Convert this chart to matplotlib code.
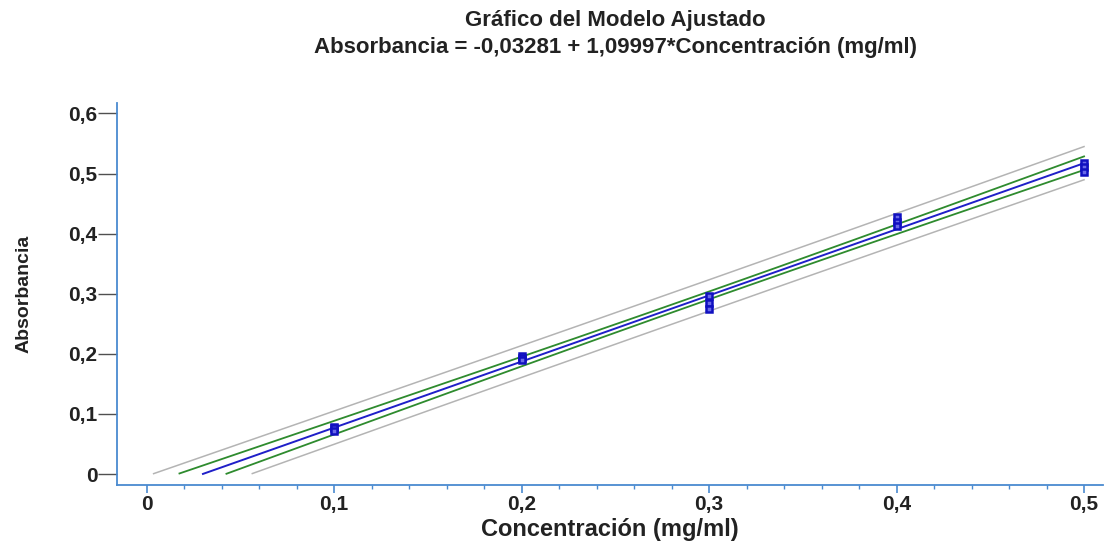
import numpy as np
import matplotlib
matplotlib.use("Agg")
import matplotlib.pyplot as plt
from matplotlib.ticker import MultipleLocator, FuncFormatter

plt.rcParams['font.family'] = ['Liberation Sans', 'DejaVu Sans']

# calibration data (3 replicates per standard)
concentracion = [0.1, 0.1, 0.1, 0.2, 0.2, 0.2, 0.3, 0.3, 0.3,
                 0.4, 0.4, 0.4, 0.5, 0.5, 0.5]
absorbancia = [0.079, 0.076, 0.072, 0.197, 0.193, 0.190, 0.296, 0.285, 0.274,
               0.428, 0.420, 0.413, 0.518, 0.510, 0.502]

# fitted model from the title
intercepto = -0.03281
pendiente = 1.09997
t_val = 2.160  # t(0.975, 13)

x = np.array(concentracion)
y = np.array(absorbancia)
n = len(x)
resid = y - (intercepto + pendiente * x)
s = np.sqrt(np.sum(resid**2) / (n - 2))
sxx = np.sum((x - x.mean())**2)

xx = np.linspace(0, 0.5, 400)
yfit = intercepto + pendiente * xx
conf = t_val * s * np.sqrt(1/n + (xx - x.mean())**2 / sxx)
pred = t_val * s * np.sqrt(1 + 1/n + (xx - x.mean())**2 / sxx)

def clip0(v):
    return np.where(v < 0, np.nan, v)

fig = plt.figure(figsize=(11.05, 5.43), dpi=100)
ax = fig.add_axes([0.106, 0.107, 0.892, 0.703])

ax.plot(xx, clip0(yfit + pred), color='#b4b4b4', lw=1.1)
ax.plot(xx, clip0(yfit - pred), color='#b4b4b4', lw=1.1)
ax.plot(xx, clip0(yfit + conf), color='#2e8b2e', lw=1.3)
ax.plot(xx, clip0(yfit - conf), color='#2e8b2e', lw=1.3)
ax.plot(xx, clip0(yfit), color='#1f1fc8', lw=1.4)
ax.plot(x, y, 's', ms=4, mfc='#6a6ae8', mec='#1010c0', mew=1.8)

ax.set_xlim(-0.0157, 0.51)
ax.set_ylim(-0.018, 0.617)

azul = '#4a8ad0'
for side in ['top', 'right']:
    ax.spines[side].set_visible(False)
for side in ['left', 'bottom']:
    ax.spines[side].set_color(azul)
    ax.spines[side].set_linewidth(1.3)

fmt = FuncFormatter(lambda v, p: '0' if abs(v) < 1e-9 else f'{v:.1f}'.replace('.', ','))
ax.xaxis.set_major_locator(MultipleLocator(0.1))
ax.xaxis.set_minor_locator(MultipleLocator(0.02))
ax.yaxis.set_major_locator(MultipleLocator(0.1))
ax.xaxis.set_major_formatter(fmt)
ax.yaxis.set_major_formatter(fmt)
ax.tick_params(axis='x', which='major', length=6, color=azul, width=1.2, pad=1, labelsize=15)
ax.tick_params(axis='x', which='minor', length=3, color=azul, width=1.0)
ax.tick_params(axis='y', which='major', length=14, color='#505050', width=1.0, pad=0, labelsize=15)
for lbl in ax.get_xticklabels() + ax.get_yticklabels():
    lbl.set_fontweight('bold')
    lbl.set_color('#222222')

ax.set_xlabel('Concentración (mg/ml)', fontsize=17, fontweight='bold', color='#222222', labelpad=3)
ax.set_ylabel('Absorbancia', fontsize=14, fontweight='bold', color='#222222', labelpad=26)

fig.text(0.557, 0.962, 'Gráfico del Modelo Ajustado', ha='center', va='center',
         fontsize=16, fontweight='bold', color='#222222')
fig.text(0.557, 0.912, 'Absorbancia = -0,03281 + 1,09997*Concentración (mg/ml)', ha='center', va='center',
         fontsize=16, fontweight='bold', color='#222222')

fig.savefig('out.png', dpi=100)
